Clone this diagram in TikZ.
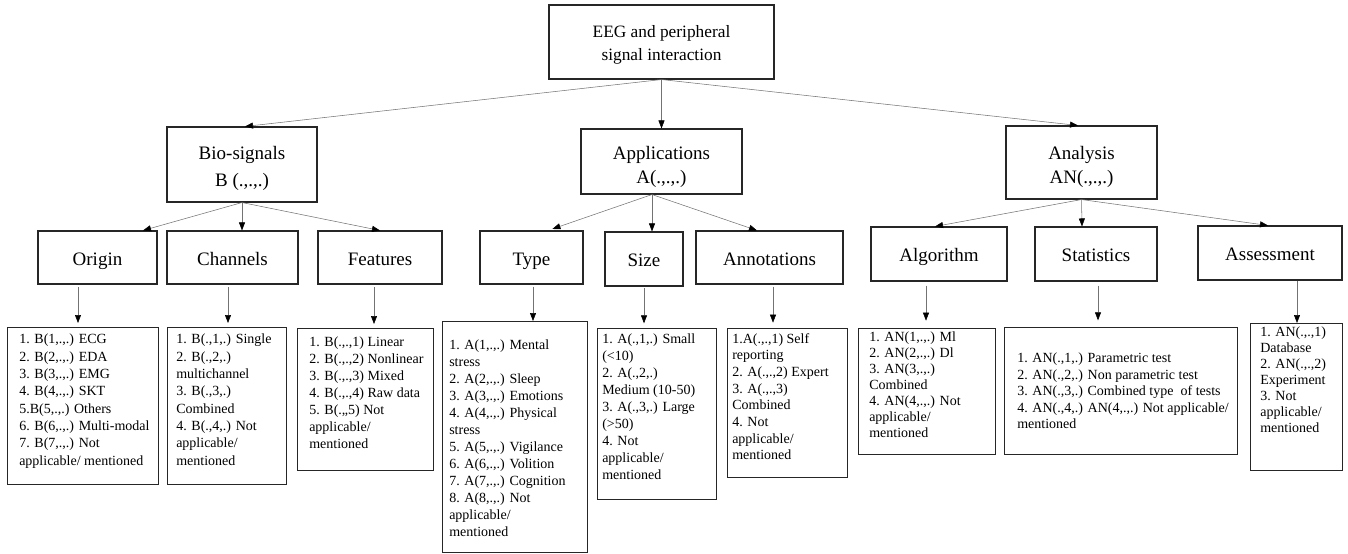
\documentclass[tikz,border=0pt]{standalone}
\usepackage{fontspec}
\setmainfont{Liberation Serif}
\usetikzlibrary{arrows.meta}
\newcommand{\hgap}[1]{\rule{0pt}{#1}}
\newcommand{\dgap}{\rule[-3.5pt]{0pt}{3.5pt}}
\newcommand{\lstrut}{\rule[-3.5pt]{0pt}{18.7pt}}

\begin{document}
\begin{tikzpicture}[x=0.75pt, y=-0.75pt,
  wh/.style 2 args={minimum width=#1*0.75pt, minimum height=#2*0.75pt},
  box/.style={draw=black!85, line width=0.8pt, align=center, inner sep=0pt,
    font=\fontsize{14.25}{20}\selectfont},
  listbox/.style={draw=black!85, line width=0.8pt, anchor=north west, inner sep=0pt},
  listtext/.style={anchor=north west, inner sep=0pt, align=left,
    font=\fontsize{10.5}{#1}\selectfont},
  link/.style={draw=black!55, line width=0.4pt,
    -{Triangle[length=6pt, width=4.5pt, color=black]}}]
\useasboundingbox (0,0) rectangle (1348,553);
% top
\node[box, wh={225}{74}, font=\fontsize{13}{17.25}\selectfont] (root) at (661.5,42)
  {\hgap{14.25pt}EEG and peripheral\\signal interaction\dgap};
% first level
\node[box, wh={150}{75}, font=\fontsize{14.25}{20.25}\selectfont] (bio) at (242,164.5)
  {\hgap{16.65pt}Bio-signals\\B (.,.,.)\dgap};
\node[box, wh={161}{65}, font=\fontsize{14.25}{18}\selectfont] (app) at (661.5,161.5)
  {\hgap{18.2pt}Applications\\A(.,.,.)\dgap};
\node[box, wh={151}{73}, font=\fontsize{14.25}{18}\selectfont] (ana) at (1081.5,162.5)
  {\hgap{16.7pt}Analysis\\AN(.,.,.)\dgap};
% second level
\node[box, wh={119}{53}] (origin) at (97.5,257.5) {\lstrut Origin};
\node[box, wh={131}{53}] (channels) at (232.5,257.5) {\lstrut Channels};
\node[box, wh={124}{53}] (features) at (380,257.5) {\lstrut Features};
\node[box, wh={103}{53}] (type) at (531.5,257.5) {\lstrut Type};
\node[box, wh={78}{54}] (size) at (644,259) {\lstrut Size};
\node[box, wh={147}{53}] (annot) at (769.5,257.5) {\lstrut Annotations};
\node[box, wh={136}{54}] (algo) at (939,254) {\lstrut Algorithm};
\node[box, wh={122}{54}] (stats) at (1096,254) {\lstrut Statistics};
\node[box, wh={144}{54}] (assess) at (1270,253) {\lstrut Assessment};
% lists
\node[listbox, wh={151}{157}] (olist) at (7,327) {};
\node[listtext=13] (olistT) at (19,334) {1. B(1,.,.) ECG\\2. B(2,.,.) EDA\\3. B(3,.,.) EMG\\
  4. B(4,.,.) SKT\\5.B(5,.,.) Others\\6. B(6,.,.) Multi-modal\\7. B(7,.,.) Not\\
  applicable/ mentioned};
\node[listbox, wh={119}{157}] (clist) at (167,327) {};
\node[listtext=13] (clistT) at (176,334) {1. B(.,1,.) Single\\2. B(.,2,.)\\multichannel\\
  3. B(.,3,.)\\Combined\\4. B(.,4,.) Not\\applicable/\\mentioned};
\node[listbox, wh={136}{142}] (flist) at (297,328) {};
\node[listtext=12.75] (flistT) at (309,337) {1. B(.,.,1) Linear\\2. B(.,.,2) Nonlinear\\
  3. B(.,.,3) Mixed\\4. B(.,.,4) Raw data\\5. B(.,,5) Not\\applicable/\\mentioned};
\node[listbox, wh={145}{231}] (tlist) at (442,321) {};
\node[listtext=12.75] (tlistT) at (449,340) {1. A(1,.,.) Mental\\stress\\2. A(2,.,.) Sleep\\
  3. A(3,.,.) Emotions\\4. A(4,.,.) Physical\\stress\\5. A(5,.,.) Vigilance\\
  6. A(6,.,.) Volition\\7. A(7,.,.) Cognition\\8. A(8,.,.) Not\\applicable/\\mentioned};
\node[listbox, wh={119}{171}] (slist) at (597,328) {};
\node[listtext=12.75] (slistT) at (602,334) {1. A(.,1,.) Small\\(<10)\\2. A(.,2,.)\\
  Medium (10-50)\\3. A(.,3,.) Large\\(>50)\\4. Not\\applicable/\\mentioned};
\node[listbox, wh={120}{149}] (alist) at (727,328) {};
\node[listtext=12.5] (alistT) at (732,333) {1.A(.,.,1) Self\\reporting\\2. A(.,.,2) Expert\\
  3. A(.,.,3)\\Combined\\4. Not\\applicable/\\mentioned};
\node[listbox, wh={137}{126}] (glist) at (858,328) {};
\node[listtext=12] (glistT) at (869,332) {1. AN(1,.,.) Ml\\2. AN(2,.,.) Dl\\3. AN(3,.,.)\\
  Combined\\4. AN(4,.,.) Not\\applicable/\\mentioned};
\node[listbox, wh={233}{127}] (stlist) at (1004,327) {};
\node[listtext=12.3] (stlistT) at (1017,353) {1. AN(.,1,.) Parametric test\\
  2. AN(.,2,.) Non parametric test\\3. AN(.,3,.) Combined type\ \ of tests\\
  4. AN(.,4,.) AN(4,.,.) Not applicable/\\mentioned};
\node[listbox, wh={92}{147}] (aslist) at (1250,323) {};
\node[listtext=12] (aslistT) at (1260,327) {1. AN(.,.,1)\\Database\\2. AN(.,.,2)\\
  Experiment\\3. Not\\applicable/\\mentioned};
% arrows from the top
\draw[link] (root.south) -- (bio.north -| 245,0);
\draw[link] (root.south) -- (app.north);
\draw[link] (root.south) -- (ana.north -| 1078,0);
% arrows to second level
\draw[link] (bio.south) -- (origin.north -| 143,0);
\draw[link] (bio.south) -- (channels.north -| 242,0);
\draw[link] (bio.south) -- (features.north);
\draw[link, shorten >=3.5pt] (app.south -| 652,0) -- (type.north -| 548,0);
\draw[link] (app.south -| 652,0) -- (size.north -| 652,0);
\draw[link] (app.south -| 652,0) -- (annot.north -| 757,0);
\draw[link] (ana.south) -- (algo.north -| 935,0);
\draw[link] (ana.south) -- (stats.north -| 1082,0);
\draw[link] (ana.south) -- (assess.north -| 1268,0);
% arrows down to the lists
\draw[link, shorten <=2pt, shorten >=3pt] (origin.south -| 78,0) -- (olist.north -| 78,0);
\draw[link, shorten <=2pt, shorten >=3pt] (channels.south -| 228,0) -- (clist.north -| 228,0);
\draw[link, shorten <=2pt, shorten >=3pt] (features.south -| 374,0) -- (flist.north -| 374,0);
\draw[link, shorten <=1.5pt] (type.south -| 533,0) -- (tlist.north -| 533,0);
\draw[link, shorten <=1pt, shorten >=3.5pt] (size.south -| 644,0) -- (slist.north -| 644,0);
\draw[link, shorten <=1.5pt, shorten >=4pt] (annot.south -| 773,0) -- (alist.north -| 773,0);
\draw[link, shorten <=3pt, shorten >=5.5pt] (algo.south -| 926,0) -- (glist.north -| 926,0);
\draw[link, shorten <=3pt, shorten >=5pt] (stats.south -| 1098,0) -- (stlist.north -| 1098,0);
\draw[link] (assess.south -| 1297,0) -- (aslist.north -| 1297,0);
\end{tikzpicture}
\end{document}
